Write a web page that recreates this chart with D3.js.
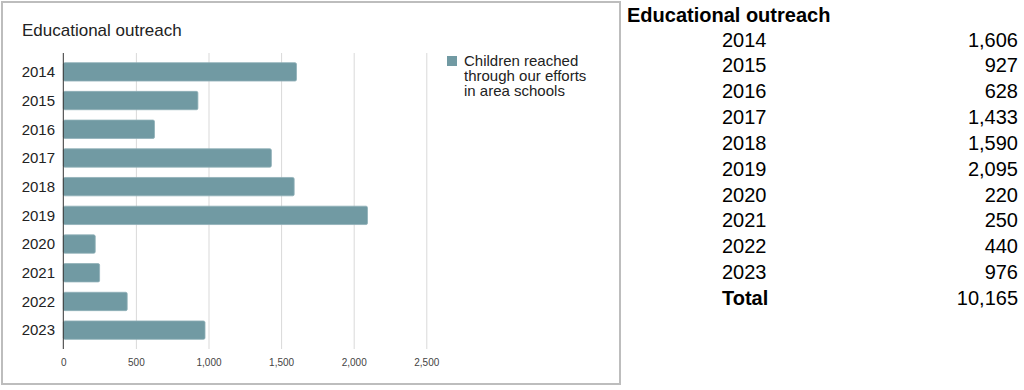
<!DOCTYPE html>
<html>
<head>
<meta charset="utf-8">
<script src="https://cdn.jsdelivr.net/npm/d3@7"></script>
<style>
  body { margin: 0; background: #fff; }
  svg { display: block; font-family: "Liberation Sans", Arial, sans-serif; }
  .grid line { stroke: #d9d9d9; }
  .grid path { display: none; }
  .xaxis text { fill: #444; font-size: 10px; }
</style>
</head>
<body>
<svg id="chart"></svg>
<script>
    var years = ["2014", "2015", "2016", "2017", "2018", "2019", "2020", "2021", "2022", "2023"];
    var children = [1606, 927, 628, 1433, 1590, 2095, 220, 250, 440, 976];
    var xTicks = [0, 500, 1000, 1500, 2000, 2500];
    var legendLines = ["Children reached", "through our efforts", "in area schools"];
    var chartTitle = "Educational outreach";

    var width = 1024;
    var height = 390;

    var plotLeft = 63.3;
    var plotRight = 426.3;
    var plotTop = 53;
    var plotBottom = 349;
    var barColor = "#719aa3";

    var svg = d3.select("#chart")
                .attr("width", width)
                .attr("height", height);

    // chart frame
    svg.append("rect")
        .attr("x", 2)
        .attr("y", 2)
        .attr("width", 618)
        .attr("height", 382)
        .attr("fill", "#fff")
        .attr("stroke", "#bdbdbd")
        .attr("stroke-width", 2);

    svg.append("text")
        .attr("x", 22)
        .attr("y", 36)
        .attr("font-size", 17)
        .attr("fill", "#222")
        .text(chartTitle);

    var x = d3.scaleLinear()
              .domain([0, 2500])
              .range([plotLeft, plotRight]);

    var y = d3.scaleBand()
              .domain(years)
              .range([57.5, 344.5])
              .paddingInner(0.36)
              .paddingOuter(0.18);

    // gridlines + tick labels
    var xAxis = svg.append("g")
        .attr("class", "grid xaxis")
        .attr("transform", "translate(0," + plotBottom + ")")
        .call(d3.axisBottom(x)
                .tickValues(xTicks)
                .tickSize(-(plotBottom - plotTop))
                .tickFormat(d3.format(",")));
    xAxis.selectAll("text").attr("dy", "1.1em").attr("y", 6);
    xAxis.selectAll(".tick")
        .filter(function(d) { return d === 0; })
        .select("line").remove();

    // bars
    svg.selectAll("rect.bar")
        .data(children)
        .enter()
        .append("rect")
        .attr("class", "bar")
        .attr("x", x(0))
        .attr("y", function(d, i) { return y(years[i]); })
        .attr("width", function(d) { return x(d) - x(0); })
        .attr("height", y.bandwidth())
        .attr("rx", 1.5)
        .attr("fill", barColor)
        .attr("stroke", "#8fb0b7")
        .attr("stroke-width", 0.8);

    // baseline axis
    svg.append("line")
        .attr("x1", x(0))
        .attr("x2", x(0))
        .attr("y1", plotTop)
        .attr("y2", plotBottom)
        .attr("stroke", "#333")
        .attr("stroke-width", 1);

    // category labels
    svg.selectAll("text.category")
        .data(years)
        .enter()
        .append("text")
        .attr("class", "category")
        .attr("x", 55)
        .attr("y", function(d) { return y(d) + y.bandwidth() / 2; })
        .attr("dy", "0.35em")
        .attr("text-anchor", "end")
        .attr("font-size", 15)
        .attr("fill", "#222")
        .text(String);

    // legend
    svg.append("rect")
        .attr("x", 447)
        .attr("y", 56)
        .attr("width", 10)
        .attr("height", 10)
        .attr("fill", barColor);

    svg.selectAll("text.legend")
        .data(legendLines)
        .enter()
        .append("text")
        .attr("class", "legend")
        .attr("x", 464)
        .attr("y", function(d, i) { return 66 + i * 14.8; })
        .attr("font-size", 15)
        .attr("fill", "#222")
        .text(String);

    // table on the right
    var rowHeight = 25.84;
    var firstRow = 46.5;
    var table = svg.append("g").attr("font-size", 20).attr("fill", "#000");

    table.append("text")
        .attr("x", 627)
        .attr("y", 22)
        .attr("font-weight", "bold")
        .text(chartTitle);

    table.selectAll("text.year")
        .data(years)
        .enter()
        .append("text")
        .attr("class", "year")
        .attr("x", 722)
        .attr("y", function(d, i) { return firstRow + i * rowHeight; })
        .text(String);

    table.selectAll("text.value")
        .data(children)
        .enter()
        .append("text")
        .attr("class", "value")
        .attr("x", 1018)
        .attr("y", function(d, i) { return firstRow + i * rowHeight; })
        .attr("text-anchor", "end")
        .text(d3.format(","));

    table.append("text")
        .attr("x", 722)
        .attr("y", firstRow + years.length * rowHeight)
        .attr("font-weight", "bold")
        .text("Total");

    table.append("text")
        .attr("x", 1018)
        .attr("y", firstRow + years.length * rowHeight)
        .attr("text-anchor", "end")
        .text(d3.format(",")(d3.sum(children)));
</script>
</body>
</html>
